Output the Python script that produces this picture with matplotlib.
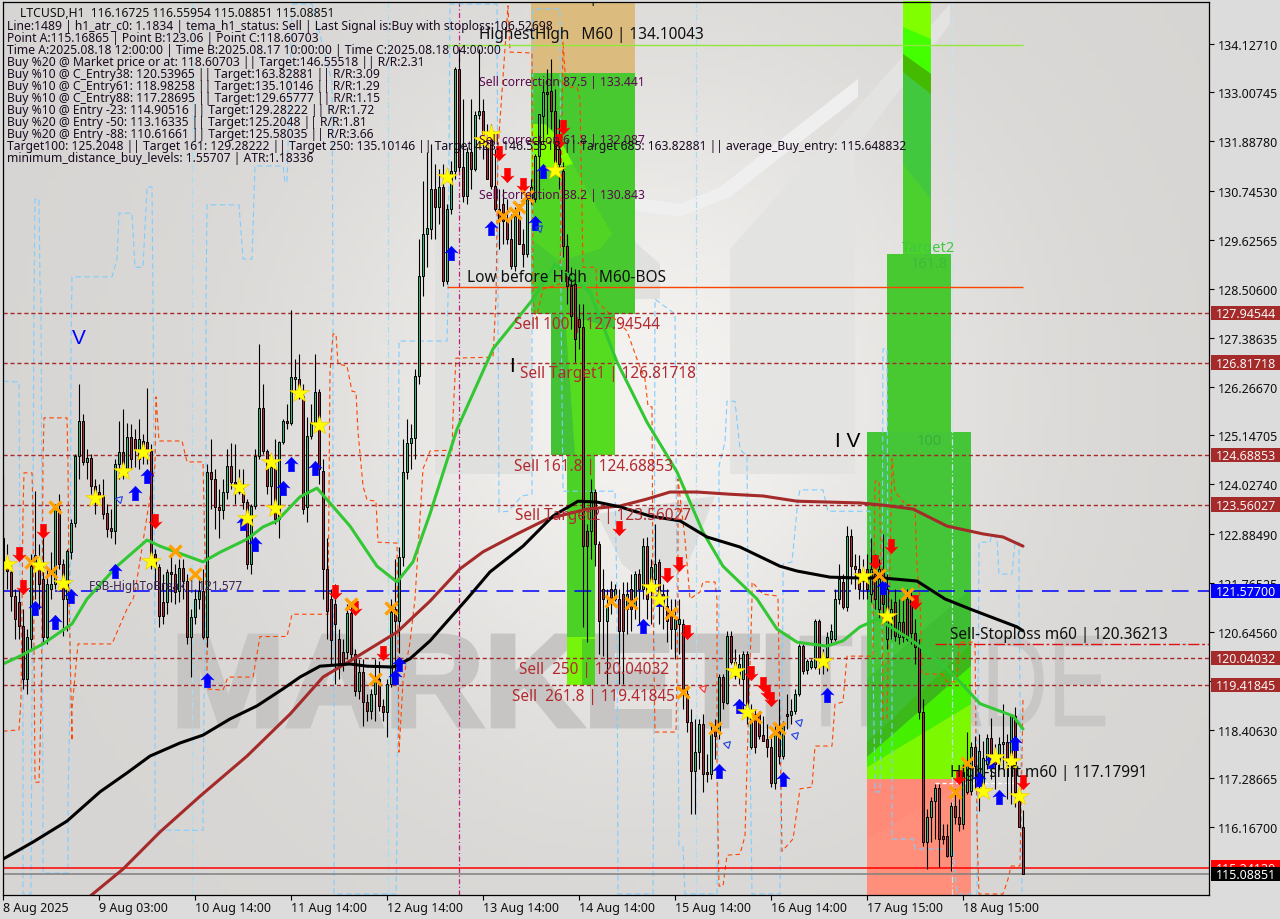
import numpy as np
import matplotlib
matplotlib.use("Agg")
import matplotlib.pyplot as plt
from matplotlib.patches import Polygon, Rectangle, PathPatch
from matplotlib.path import Path
from matplotlib.textpath import TextPath
from matplotlib.font_manager import FontProperties
from matplotlib.transforms import Affine2D

opens = [122.80,122.15,122.02,121.47,121.33,120.78,119.57,120.48,122.15,122.20,121.86,120.53,121.63,121.74,123.46,122.20,121.40,122.47,123.14,124.68,125.48,124.54,124.63,123.99,123.85,123.76,123.37,123.03,122.96,124.49,124.77,124.38,125.11,125.07,124.61,125.02,125.00,124.79,122.43,122.13,121.33,121.33,122.02,121.97,121.58,122.11,121.81,120.53,120.99,121.40,121.58,120.53,124.31,124.15,123.51,123.44,123.85,124.45,124.08,124.10,123.85,123.62,122.20,123.53,124.68,125.77,124.79,123.99,124.43,123.23,125.00,125.48,125.43,126.44,126.44,126.05,123.51,125.13,125.43,126.14,124.33,122.09,121.40,121.28,120.48,120.19,120.19,121.08,120.14,119.29,119.73,119.04,118.83,119.22,119.57,118.95,118.81,119.45,121.17,120.89,122.36,124.31,124.97,125.09,126.51,128.80,129.76,129.88,130.79,130.38,130.84,128.69,130.34,131.21,133.54,131.30,130.63,131.64,131.25,132.49,132.58,131.87,131.94,130.86,130.34,130.45,130.06,129.65,129.03,130.18,129.53,129.31,130.56,130.56,131.55,132.47,133.02,133.04,132.58,131.71,131.21,129.49,128.57,128.62,127.82,127.64,122.96,122.96,123.85,122.66,121.63,120.89,121.63,121.40,121.40,121.51,121.17,121.63,121.22,121.97,121.63,122.61,121.63,121.86,122.25,121.51,121.24,121.10,120.71,120.83,120.83,119.22,118.58,117.46,117.89,118.53,117.43,117.39,118.42,118.35,119.61,119.02,120.55,119.96,119.64,119.57,120.14,118.01,118.76,118.76,118.28,118.19,118.01,117.18,118.37,117.80,118.76,118.74,118.83,119.22,120.32,119.77,119.84,119.84,120.89,120.03,120.07,120.48,120.48,121.40,121.79,121.22,122.84,122.15,122.09,121.81,122.09,121.51,121.97,121.17,122.09,120.48,120.94,121.33,120.53,120.87,121.40,121.40,120.62,120.30,118.81,115.83,116.40,116.77,117.07,115.97,115.97,115.51,116.66,116.40,116.25,116.98,117.00,118.01,117.21,117.16,117.62,118.22,117.73,117.66,118.07,118.12,117.66,118.72,116.77,116.17]
highs = [124.24,122.66,122.25,121.63,121.63,121.17,120.71,122.43,123.87,122.66,123.00,122.09,122.47,123.58,123.80,122.32,122.55,123.23,124.72,126.33,125.64,124.84,124.72,124.15,124.03,124.15,123.58,123.46,124.61,125.48,125.75,125.43,125.41,125.30,125.52,125.18,126.24,124.95,122.55,122.20,121.97,122.09,122.43,122.20,122.32,122.32,121.97,121.17,121.63,121.86,122.09,124.49,125.07,124.38,123.92,124.15,124.84,124.97,124.95,124.38,124.38,123.69,123.58,124.84,127.24,126.33,124.84,124.61,125.07,125.02,125.52,125.87,128.02,126.90,127.01,126.33,125.57,125.87,127.01,126.21,124.61,122.80,121.63,121.74,120.71,120.48,121.28,121.22,120.25,120.03,120.03,119.22,119.34,120.03,119.98,119.11,119.57,121.40,122.32,122.59,125.07,125.52,125.41,126.67,129.65,130.98,131.64,131.82,131.37,131.25,131.37,130.45,131.44,133.59,134.00,132.86,131.76,132.86,132.58,134.00,132.86,132.28,132.28,131.71,130.79,130.79,130.56,130.22,130.38,130.45,129.88,130.63,131.02,131.60,132.51,133.27,133.54,133.77,133.09,132.40,131.41,129.76,129.01,128.96,128.16,128.16,123.12,124.15,123.92,122.73,122.09,121.63,121.81,121.74,121.63,121.79,121.79,121.97,122.04,122.09,122.80,122.82,122.32,123.12,122.32,121.74,121.63,121.40,121.40,121.40,120.94,119.34,118.88,118.65,118.65,118.76,117.85,118.53,118.65,119.68,119.68,120.67,120.67,120.25,120.14,120.21,120.21,118.99,118.88,118.83,118.72,118.53,118.31,118.53,119.11,118.60,119.22,119.11,119.34,120.37,120.37,120.03,120.03,120.94,120.94,120.25,120.64,120.83,121.63,122.20,121.97,123.07,123.00,122.43,122.41,122.32,122.43,122.80,122.43,122.32,122.89,121.97,121.40,121.63,121.40,121.40,121.63,121.63,120.94,120.48,119.11,116.59,116.86,117.16,117.16,116.25,116.25,116.75,117.05,116.82,117.62,118.35,118.12,118.26,118.31,118.15,118.31,118.67,118.07,118.24,118.99,118.31,118.76,118.92,117.05,116.56]
lows = [121.97,121.63,121.12,120.48,120.48,119.34,119.22,120.25,121.40,121.17,120.37,120.37,121.40,121.63,122.09,120.55,120.67,122.32,123.05,124.15,124.47,124.15,123.80,123.35,123.58,123.23,122.82,122.80,122.66,124.15,124.15,124.27,124.38,124.43,124.38,124.49,124.49,122.09,121.63,120.76,120.83,121.06,121.33,121.28,121.33,121.40,120.37,119.61,120.83,121.17,120.48,120.30,123.46,123.00,122.80,123.23,123.69,123.92,123.58,123.80,123.46,122.09,121.97,123.46,124.61,124.72,123.80,123.35,123.12,122.80,124.95,125.30,125.39,126.10,125.98,123.35,123.16,125.07,125.30,124.03,121.40,120.48,119.91,119.45,119.57,119.75,120.03,119.98,119.18,119.11,118.49,118.60,118.65,118.60,118.83,118.60,118.24,119.38,119.45,120.16,122.15,124.15,124.38,124.61,126.33,128.34,129.01,129.65,129.65,129.99,128.57,128.62,130.22,131.02,131.21,130.50,130.45,130.79,131.21,132.40,131.48,131.02,130.79,130.29,129.42,129.53,129.53,128.96,128.92,129.53,129.01,129.24,130.45,130.50,130.56,131.94,132.05,132.17,131.14,130.79,129.24,128.16,127.59,126.83,127.13,120.76,120.42,122.32,122.15,120.14,120.09,119.45,121.06,121.35,119.45,119.45,120.60,120.67,120.94,120.83,121.40,120.94,120.83,121.63,120.83,120.71,120.42,120.25,120.03,120.14,118.88,118.35,116.47,116.47,117.50,116.98,117.21,117.27,117.73,118.19,118.88,119.00,119.91,119.57,119.45,118.83,118.53,117.96,117.87,118.19,118.15,117.78,117.09,117.05,117.62,117.73,118.42,118.53,118.76,119.18,119.68,119.68,119.80,119.80,119.68,119.68,119.75,120.37,120.44,121.28,121.17,121.12,121.74,121.63,121.40,121.40,121.40,121.33,121.17,120.94,120.94,120.25,120.48,120.44,120.37,120.42,120.44,120.37,119.91,118.65,115.74,115.21,115.83,115.90,115.26,115.79,115.49,115.17,116.25,116.08,116.13,116.93,116.91,117.05,116.54,117.05,117.50,117.27,117.05,117.50,117.50,116.82,116.70,116.63,116.17,115.09]
closes = [122.15,122.04,121.47,120.94,120.78,119.57,120.53,122.15,122.41,121.74,120.53,121.74,121.74,123.46,122.20,121.40,122.50,123.14,124.68,125.48,124.54,124.63,123.99,123.76,123.76,123.35,123.00,122.96,124.49,124.77,124.49,125.11,124.61,124.84,125.07,124.68,124.79,122.20,122.13,121.01,121.01,122.02,121.97,121.56,122.11,121.81,120.53,120.99,121.40,121.58,120.53,124.31,124.15,123.51,123.44,123.85,124.45,124.08,124.03,123.85,123.62,122.20,123.53,124.68,125.77,124.79,123.99,124.43,123.23,125.00,125.48,125.43,126.49,126.49,126.05,123.46,125.13,125.45,126.14,124.38,122.09,121.12,120.46,120.83,119.91,119.91,121.08,120.14,119.29,119.73,119.04,118.83,119.22,119.57,118.95,118.81,119.45,121.10,120.89,122.36,124.31,124.97,125.09,126.51,128.80,129.76,129.90,130.79,130.38,130.84,128.69,130.34,131.21,133.54,131.30,130.63,131.64,131.25,132.49,132.58,131.87,131.02,130.86,130.34,130.06,130.06,129.65,129.03,130.18,129.53,129.31,130.56,130.84,131.55,132.51,133.02,132.97,132.58,131.41,131.37,129.49,128.57,127.88,127.36,127.64,122.61,122.61,123.85,122.66,120.89,121.40,121.22,121.35,121.63,120.67,120.67,121.51,121.17,121.97,121.63,122.61,121.40,122.13,122.20,121.51,121.28,120.89,120.71,120.94,120.94,119.22,118.58,117.46,117.89,118.53,117.39,117.39,118.31,118.26,119.61,119.04,120.55,119.96,119.64,119.91,120.14,118.76,118.76,118.01,118.26,118.15,118.01,117.18,118.37,117.80,118.49,118.72,118.83,119.22,120.32,119.75,119.98,119.98,120.89,119.98,119.91,120.53,120.67,121.40,121.86,121.22,122.84,122.15,122.09,121.63,122.04,121.63,122.09,121.40,122.09,121.28,121.63,121.17,120.55,120.87,120.53,120.48,120.62,120.30,118.81,115.83,116.40,116.77,117.07,115.90,115.90,115.51,116.66,116.40,116.25,117.43,117.66,118.01,117.57,117.92,117.76,118.22,117.66,117.62,118.07,118.12,117.66,118.72,116.98,116.17,115.09]

x_labels = ["8 Aug 2025","9 Aug 03:00","10 Aug 14:00","11 Aug 14:00","12 Aug 14:00","13 Aug 14:00","14 Aug 14:00","15 Aug 14:00","16 Aug 14:00","17 Aug 15:00","18 Aug 15:00"]
y_ticks = [134.12710,133.00745,131.88780,130.74530,129.62565,128.50600,127.38635,126.26670,125.14705,124.02740,122.88490,121.76525,120.64560,119.52595,118.40630,117.28665,116.16700]

black_bar = [0,7.5,16,24.25,31.25,36.75,44.25,50,56.75,63.5,70,74.25,79.25,86.75,91,97.5,101.75,106.75,116,121.75,130,137.5,143.75,148.5,154.25,161.75,169.25,176,184.25,194.25,198.5,206.75,214.25,220,228.5,235.5,241.75,253.5,255]
black_val = [115.44,115.83,116.31,116.98,117.43,117.80,118.10,118.28,118.65,118.95,119.34,119.61,119.86,119.91,119.86,119.84,120.03,120.44,121.40,122.02,122.61,123.30,123.64,123.62,123.51,123.30,123.19,122.82,122.59,122.15,122.04,121.90,121.88,121.88,121.81,121.40,121.17,120.76,120.67]
brown_bar = [21.25,30,39.25,49.25,61,71.75,80,86.75,98.5,106.75,114.25,120,128.5,136,146,154.25,161,166.75,173.5,181.75,190,198.5,214.25,220,227.5,236,245,250,255]
brown_val = [114.55,115.21,116.06,116.88,117.80,118.76,119.61,119.98,120.64,121.35,122.09,122.48,122.89,123.23,123.46,123.53,123.69,123.85,123.85,123.80,123.76,123.64,123.60,123.55,123.46,123.07,122.89,122.82,122.61]
green_bar = [0,4.25,10,17.25,21,28.5,36,39.25,50,54.25,61,65,68.5,74.25,78.5,86.75,93.5,98.5,102.5,106.75,113.5,122.5,132.5,138,146.75,153.5,161,168.5,175,180,188.5,193.5,198.5,206,210,214.25,218.75,226.75,232.5,239.25,244.25,252.5,255]
green_val = [119.91,120.09,120.37,120.83,121.40,122.15,122.75,122.61,122.25,122.47,122.77,123.05,123.19,123.74,123.94,123.07,122.15,121.79,122.25,123.35,125.29,127.13,128.27,129.07,128.43,126.83,125.45,124.31,122.93,122.15,121.40,120.71,120.41,120.32,120.44,120.76,120.94,120.48,120.09,119.50,119.00,118.72,118.42]

upper_bar = [0,4,4.25,5,5,7,7.25,7.75,8,9,9.25,9.5,10,10,16.25,16.25,16.75,17,17.25,27.25,28.5,29,32.25,33,35,36,37.25,37.5,38,38,50,50.25,50.75,50.75,51,59,60,62.25,63,70,70.5,71,72.25,77.25,82.25,82.5,82.5,82.75,82.75,98.25,98.5,99,111,111.25,111.75,123.5,123.75,124,126.25,129.75,132.25,132.25,132.5,139.25,139.5,140,153,153.5,153.75,162.5,162.75,163,168,168.5,168.75,169,170,170.5,178.5,179,179,180.5,181,183,184.25,186,186.25,187.25,194.25,195,195,197.25,198.75,199.25,205,206.25,216.75,217.25,218,219.25,219.75,220,221,221.25,222.25,222.25,227.5,228,237.5,238.5,243.5,244,246.75,247.25,248.5,249,252.25,253,254,254,254.75]
upper_val = [126.39,126.37,121.56,119.11,114.64,114.64,119.11,128.27,130.56,130.56,128.62,128.27,117.05,115.12,115.12,116.82,119.11,127.06,128.78,128.78,129.19,130.24,130.24,129.00,129.00,130.84,130.84,128.27,120.25,116.10,116.10,119.11,121.40,128.27,130.43,130.43,129.19,129.19,131.32,131.32,130.95,130.95,135.03,135.03,133.25,128.34,123.69,119.11,114.64,114.64,116.06,127.31,127.31,128.27,135.03,135.03,128.27,123.39,123.41,123.76,123.80,128.27,134.92,134.92,128.27,123.87,123.87,121.40,114.64,114.64,118.88,128.27,127.93,121.40,119.11,115.74,115.72,114.64,114.64,121.40,124.45,124.99,125.93,125.93,124.83,124.67,121.40,114.64,114.64,121.40,122.20,122.25,123.69,123.90,123.90,123.41,123.41,121.40,116.98,116.98,120.25,127.13,127.13,121.40,120.64,115.90,115.90,115.67,115.67,114.64,114.64,122.70,122.70,122.89,122.77,121.97,121.97,122.70,122.70,121.40,114.69]
lower_bar = [0,4,4.5,5,5.25,7.25,7.5,8,9,9.5,9.75,10,10.25,16,16.25,16.5,17.25,17.25,18.75,27.25,28.5,31,32.5,33,38,38.25,39,44.75,46,50,51,51,55,56.25,62.5,64.25,71,72.25,81.25,81.75,82.5,83.25,83.75,86,87.25,88.25,88.75,90,91,93.25,93.75,98.5,99,100,101.75,103,105,106.75,112.25,112.5,113.25,122.5,123.25,123.75,126.25,126.75,132.25,132.5,133.25,135,139.25,140,140.75,143.5,144.25,145,148.25,148.5,148.75,156,158.75,160.5,161.25,162.25,162.5,163,168.25,168.75,168.75,170.5,171.75,174.25,175,178,178.5,178.5,179,180,181,184.25,185.5,186.25,187.25,187.25,190,193.5,193.75,194.75,197.5,199.25,202.25,203,207.25,208,210,211,214.25,217.5,218,219,219.75,220,221,222.25,223,225.5,228,228.5,229.25,229.75,234.75,236,238.5,239,243,243.5,244,250,251.25,252,254.25,255]
lower_val = [118.37,118.40,119.11,123.39,124.29,124.29,123.39,117.20,117.20,118.81,120.64,124.54,125.55,125.55,124.45,121.47,118.15,118.88,120.37,120.37,120.64,121.17,121.40,121.56,124.45,126.03,125.02,125.02,124.54,124.54,120.41,119.34,119.31,119.61,119.61,120.54,120.54,121.05,121.05,126.60,127.47,127.47,126.78,126.74,126.16,126.14,125.23,123.99,123.67,123.64,122.70,122.68,117.89,119.50,120.41,121.40,124.38,124.79,124.81,125.59,126.92,126.94,128.27,131.71,134.99,133.93,133.91,128.27,127.81,128.50,128.62,134.18,133.13,133.13,132.86,129.00,129.00,128.27,128.20,127.54,126.83,126.44,125.82,125.80,121.40,118.35,118.35,121.40,124.15,122.77,121.40,121.56,121.79,121.79,121.40,117.43,114.82,114.82,115.53,115.55,115.97,118.35,121.40,121.79,121.51,121.47,121.40,115.62,115.90,117.05,117.09,118.03,118.03,118.99,119.04,120.09,120.09,120.09,124.10,124.10,121.40,118.65,118.65,124.61,123.85,123.58,123.53,122.15,121.40,119.68,119.68,119.50,119.50,120.41,120.41,116.06,114.64,114.64,114.98,115.28,115.28,119.11]

star_bar = [1,9,15,23,30,35,37,59,61,67,68,74,79,111,120,122,138,162,164,183,186,205,215,221,245,248,252,254]
star_val = [122.2,122.18,121.77,123.71,124.33,124.77,122.27,123.97,123.25,124.54,123.48,126.12,125.38,131.07,131.92,132.05,131.23,121.67,121.40,119.75,118.81,119.98,121.93,121.01,116.99,117.78,117.69,116.88]
up_bar = [17,28,33,36,60,63,70,72,78,8,13,51,98,99,112,122,133,135,160,179,184,195,206,220,244,247,249,253,164]
up_val = [121.47,122.04,123.83,124.22,123.14,122.66,123.94,124.49,124.40,121.19,120.87,119.54,119.61,119.91,129.33,129.90,130.01,131.21,120.78,117.46,118.95,117.27,119.20,121.67,117.27,117.69,116.86,118.10,121.40]
down_bar = [4,5,10,38,83,88,95,124,126,130,140,139,154,166,169,171,187,190,191,192,218,222,228,239,255]
down_val = [122.43,121.67,122.96,123.19,121.56,121.19,120.16,131.62,131.11,130.88,132.21,131.89,123.03,121.95,122.20,120.64,119.70,119.45,119.27,119.11,122.25,122.61,121.33,117.32,117.20]
cross_bar = [13,7,12,43,48,87,97,93,125,128,129,131,157,152,167,170,178,188,193,194,219,226,238,241]
cross_val = [123.51,122.25,122.02,122.50,121.97,121.28,121.19,119.56,130.17,130.24,130.38,130.63,121.31,121.35,121.08,119.27,118.44,118.69,118.35,118.44,121.95,121.51,116.98,117.64]
hollow_bar = [29,134,175,181,198,199]
hollow_val = [123.69,129.90,119.35,118.07,118.28,118.58]
hollow_col = ["#2040e0","#2040e0","#ff3030","#2040e0","#2040e0","#2040e0"]

level_prices = [127.94544,126.81718,124.68853,123.56027,120.04032,119.41845]
info_lines = [
 "Line:1489 | h1_atr_c0: 1.1834 | tema_h1_status: Sell | Last Signal is:Buy with stoploss:106.52698",
 "Point A:115.16865 | Point B:123.06 | Point C:118.60703",
 "Time A:2025.08.18 12:00:00 | Time B:2025.08.17 10:00:00 | Time C:2025.08.18 04:00:00",
 "Buy %20 @ Market price or at: 118.60703 || Target:146.55518 || R/R:2.31",
 "Buy %10 @ C_Entry38: 120.53965 || Target:163.82881 || R/R:3.09",
 "Buy %10 @ C_Entry61: 118.98258 || Target:135.10146 || R/R:1.29",
 "Buy %10 @ C_Entry88: 117.28695 || Target:129.65777 || R/R:1.15",
 "Buy %10 @ Entry -23: 114.90516 || Target:129.28222 || R/R:1.72",
 "Buy %20 @ Entry -50: 113.16335 || Target:125.2048 || R/R:1.81",
 "Buy %20 @ Entry -88: 110.61661 || Target:125.58035 || R/R:3.66",
 "Target100: 125.2048 || Target 161: 129.28222 || Target 250: 135.10146 || Target 423: 146.55518 || Target 685: 163.82881 || average_Buy_entry: 115.648832",
 "minimum_distance_buy_levels: 1.55707 | ATR:1.18336",
]

FONT = ["Noto Sans", "DejaVu Sans"]
plt.rcParams["font.family"] = FONT
W, H = 1280, 920
fig = plt.figure(figsize=(W/100, H/100), dpi=100, facecolor="#dcdcdc")
L, R, T, B = 3, 1209, 2.5, 896
ax = fig.add_axes([L/W, 1-B/H, (R-L)/W, (B-T)/H])
pix = Affine2D().scale(1, -1).translate(0, H)
YTOP, YBOT = 135.0898, 114.6167
ax.set_xlim(0, (R-L)/4)
ax.set_ylim(YBOT, YTOP)

# backdrop
gx, gy = np.meshgrid(np.linspace(L, R, 160), np.linspace(T, B, 120))
glow = 0.845 + 0.115*np.exp(-((gx-650)/330)**2 - ((gy-400)/340)**2)
ax.imshow(np.dstack([glow*0.995, glow*0.99, glow*0.98]), extent=(0, (R-L)/4, YBOT, YTOP), aspect="auto", zorder=0, origin="upper")
ax.set_xlim(0, (R-L)/4); ax.set_ylim(YBOT, YTOP)

def deco(points, col, z=1):
    ax.add_patch(Polygon(points, closed=True, fc=col, ec="none", transform=pix, zorder=z))
deco([(435,125),(500,125),(660,265),(660,300),(531,300),(531,475),(435,475)], "#e0e0df")
deco([(730,250),(950,5),(950,25),(855,150),(855,475),(730,475)], "#e3e3e2")
deco([(597,515),(715,497),(690,560),(655,592),(622,565)], "#dededd")
deco([(635,198),(680,205),(720,188),(858,80),(858,98),(730,198),(680,218),(635,212)], "#efefef")

def word(s, weight, x0, x1, col, stroke):
    tp = TextPath((0, 0), s, size=1, prop=FontProperties(family="Liberation Sans", weight=weight))
    e = tp.get_extents()
    tr = Affine2D().translate(-e.x0, -e.y0).scale((x1-x0)/e.width, -(727-637)/e.height).translate(x0, 727)
    ax.add_patch(PathPatch(tp, fc=col, ec=col, lw=stroke, transform=tr+pix, zorder=1.5))
word("MARKETI", "bold", 180, 788, "#c6c5c3", 3.5)
word("TRADE", "normal", 800, 1105, "#c8c7c5", 0.5)

# zones
def zone(b0, b1, p0, p1, col, z=2):
    return ax.add_patch(Rectangle((b0, p0), b1-b0, p1-p0, fc=col, ec="none", zorder=z))
def band(clip, points, col):
    poly = Polygon(points, closed=True, fc=col, ec="none", transform=pix, zorder=2.1)
    ax.add_patch(poly); poly.set_clip_path(clip)

GR = "#48c92f"
zone(132, 158, 133.45, YTOP, "#dcbc7e")
z1 = zone(132, 158, 127.93, 133.45, GR)
z2 = zone(137, 153, 124.70, 127.93, "#42c234")
z3 = zone(141, 148, 120.53, 124.70, "#4cd226")
z4 = zone(141, 148, 119.43, 120.53, "#76f50a")
band(z1, [(531,172),(573,165),(592,200),(612,235),(600,250),(560,262),(531,240)], "#52d424")
band(z1, [(531,125),(545,125),(560,140),(573,165),(545,172),(531,172)], "#7fff00")
band(z2, [(565,315),(615,330),(615,456),(575,456)], "#55dc20")
band(z4, [(582,640),(595,640),(595,686),(582,686)], "#4fd220")

zr1 = zone(225, 232, 129.30, YTOP, "#42c83e")
zr2 = zone(221, 237, 125.23, 129.30, "#48c932")
zr3 = zone(216, 242, 117.28, 125.23, "#45c538")
zr4 = zone(216, 242, YBOT, 117.28, "#ff8a78")
band(zr1, [(903,0),(931,0),(931,40),(903,55)], "#7fff00")
band(zr1, [(903,28),(931,40),(931,75),(903,55)], "#44ff00")
band(zr1, [(903,55),(931,75),(931,95),(903,73)], "#44bb00")
band(zr1, [(903,165),(931,200),(931,255),(903,255)], "#4bd030")
band(zr3, [(867,680),(971,590),(971,645),(867,743)], "#3fbd33")
band(zr3, [(867,743),(971,645),(971,667),(867,758)], "#3db81a")
band(zr3, [(867,758),(971,667),(971,705),(867,768)], "#44f000")
band(zr3, [(867,768),(971,705),(971,780),(867,780)], "#7cf800")
band(zr4, [(867,840),(971,780),(971,896),(867,896)], "#ff8f7a")

# session verticals
for b, c, ls in [(47.25,"#a9dcef",(0,(5,2,1,2))),(96.25,"#a9dcef",(0,(5,2,1,2))),(173.25,"#a9dcef",(0,(5,2,1,2))),(237.25,"#c0e6ee",(0,(5,2,1,2))),(114,"#c01c7c",(0,(4,2,1,2)))]:
    ax.axvline(b, color=c, lw=0.9, ls=ls, zorder=3)

# bands
ax.plot(upper_bar, upper_val, color="#7fcdff", lw=0.8, ls=(0,(5,3)), zorder=3.2)
ax.plot(lower_bar, lower_val, color="#ff4500", lw=0.8, ls=(0,(4,3)), zorder=3.2)

# levels
for p in level_prices:
    ax.axhline(p, color="#a52a2a", lw=1.0, ls=(0,(3,2)), zorder=3.3)
ax.axhline(121.577, color="#0000ff", lw=1.1, ls=(0,(11,6)), zorder=3.3)
ax.hlines(128.55, 111, 255, color="#ff4500", lw=1.0, zorder=3.3)
ax.hlines(134.10, 111, 255, color="#8fe83a", lw=1.0, zorder=3.3)
ax.hlines(120.36, 233, (R-L)/4, color="#e01010", lw=1.0, ls=(0,(8,2,2,2)), zorder=3.3)
ax.hlines(117.18, 233, 253, color="#ffffff", lw=1.0, ls=(0,(3,2)), zorder=3.3)
ax.axhline(115.2413, color="#ff0000", lw=1.1, zorder=3.3)
ax.axhline(115.08851, color="#808080", lw=1.1, zorder=3.3)

# candles
bars = np.arange(len(closes))
o, h, lo, c = map(np.array, (opens, highs, lows, closes))
ax.vlines(bars, lo, h, color="black", lw=0.8, zorder=4)
cols = np.where(c >= o, "#36b878", "#b02a3c")
ax.bar(bars, np.maximum(np.abs(c-o), 0.02), bottom=np.minimum(o, c), width=0.62, color=cols, edgecolor="black", linewidth=0.7, zorder=4.1)

# averages
ax.plot(green_bar, green_val, color="#33c733", lw=2.2, zorder=5, solid_capstyle="round")
ax.plot(brown_bar, brown_val, color="#a52a2a", lw=2.2, zorder=5.1, solid_capstyle="round")
ax.plot(black_bar, black_val, color="#000000", lw=2.2, zorder=5.2, solid_capstyle="round")

# signals
UP = Path([(0,1),(0.9,0.05),(0.42,0.2),(0.42,-1),(-0.42,-1),(-0.42,0.2),(-0.9,0.05),(0,1)], closed=True)
DOWN = Path([(0,-1),(0.9,-0.05),(0.42,-0.2),(0.42,1),(-0.42,1),(-0.42,-0.2),(-0.9,-0.05),(0,-1)], closed=True)
ax.plot(up_bar, up_val, ls="", marker=UP, ms=10.5, mfc="#0000ff", mec="#0000ff", mew=0.3, zorder=6)
ax.plot(down_bar, down_val, ls="", marker=DOWN, ms=10.5, mfc="#ff0000", mec="#ff0000", mew=0.3, zorder=6)
ax.plot(cross_bar, cross_val, ls="", marker="x", ms=8.5, mec="#ffa000", mew=2.4, zorder=6.1)
ax.plot(star_bar, star_val, ls="", marker="*", ms=15, mfc="#ffff00", mec="#f5c000", mew=0.4, zorder=6.2)
for b, v, col in zip(hollow_bar, hollow_val, hollow_col):
    ax.plot([b], [v], ls="", marker=(3, 0, -45), ms=6, mfc="none", mec=col, mew=0.8, zorder=6)

# chart text
def lbl(x, y, s, col="#101010", size=11.1, ha="left", va="center", **kw):
    ax.text(x, y, s, color=col, fontsize=size, ha=ha, va=va, transform=pix, zorder=7, clip_on=False, **kw)
PURPLE, BROWN = "#5a0a50", "#b22a30"
ax.text(465, -2, "Correction   M60 | 135.0191", color="#101010", fontsize=11.1, ha="left", va="center", transform=pix, zorder=7, clip_on=True)
lbl(479, 35, "HighestHigh   M60 | 134.10043")
lbl(479, 83, "Sell correction 87.5 | 133.441", PURPLE, 8.75)
lbl(479, 141, "Sell correction 61.8 | 132.087", PURPLE, 8.75)
lbl(479, 196, "Sell correction 38.2 | 130.843", PURPLE, 8.75)
lbl(467, 278, "Low before High   M60-BOS")
lbl(514, 325, "Sell 100 | 127.94544", BROWN)
lbl(520, 374, "Sell Target1 | 126.81718", BROWN)
lbl(514, 467, "Sell 161.8 | 124.68853", BROWN)
lbl(515, 516, "Sell Target2 | 123.56027", BROWN)
lbl(519, 670, "Sell  250 | 120.04032", BROWN)
lbl(512, 697, "Sell  261.8 | 119.41845", BROWN)
lbl(89, 587, "FSB-HighToBreak | 121.577", "#3a2050", 8.5)
lbl(72, 339, "V", "#0000ff", 15, family="Liberation Sans")
lbl(509, 367, "I", "#000000", 15, family="Liberation Sans")
lbl(835, 442, "I V", "#000000", 15, family="Liberation Sans")
lbl(929, 249, "Target2", "#3ec83e", 10.5, ha="center")
lbl(929, 265, "161.8", "#3bba3b", 10.5, ha="center")
lbl(929, 442, "100", "#3aae38", 10.5, ha="center")
lbl(950, 635, "Sell-Stoploss m60 | 120.36213")
lbl(950, 773, "High-shift m60 | 117.17991")

lbl(20, 14, "LTCUSD,H1  116.16725 116.55954 115.08851 115.08851", "#101010", 8.75)
for k, line in enumerate(info_lines):
    lbl(7, 27+12*k, line, "#1a0a20", 8.75)

# axes furniture
for s in ax.spines.values():
    s.set_color("black"); s.set_linewidth(0.9); s.set_zorder(8)
ax.yaxis.tick_right()
ax.set_yticks(y_ticks)
ax.set_yticklabels([f"{t:.5f}" for t in y_ticks], fontsize=9.0, color="#101010")
ax.tick_params(axis="y", length=3.5, width=0.8, pad=3)
ax.set_xticks(np.arange(len(x_labels))*24)
ax.set_xticklabels(x_labels, fontsize=9.0, color="#101010", ha="left")
ax.tick_params(axis="x", length=3.5, width=0.8, pad=0.5)

def tag(p, s, bg, fg="#f5f5f5", z=9):
    ypx = H - ax.transData.transform((0, p))[1]
    fig.patches.append(Rectangle((1211/W, 1-(ypx+7)/H), 69/W, 14.5/H, transform=fig.transFigure, fc=bg, ec="none", zorder=z))
    fig.text(1216/W, 1-(ypx+0.5)/H, s, color=fg, fontsize=9.0, ha="left", va="center", zorder=z+0.1)
for p in level_prices:
    tag(p, f"{p:.5f}", "#a52a2a")
tag(121.577, "121.57700", "#0000ff")
tag(115.2413, "115.24130", "#ff0000")
tag(115.08851, "115.08851", "#000000", "#ffffff", 10)

fig.savefig("out.png", dpi=100, facecolor=fig.get_facecolor())
